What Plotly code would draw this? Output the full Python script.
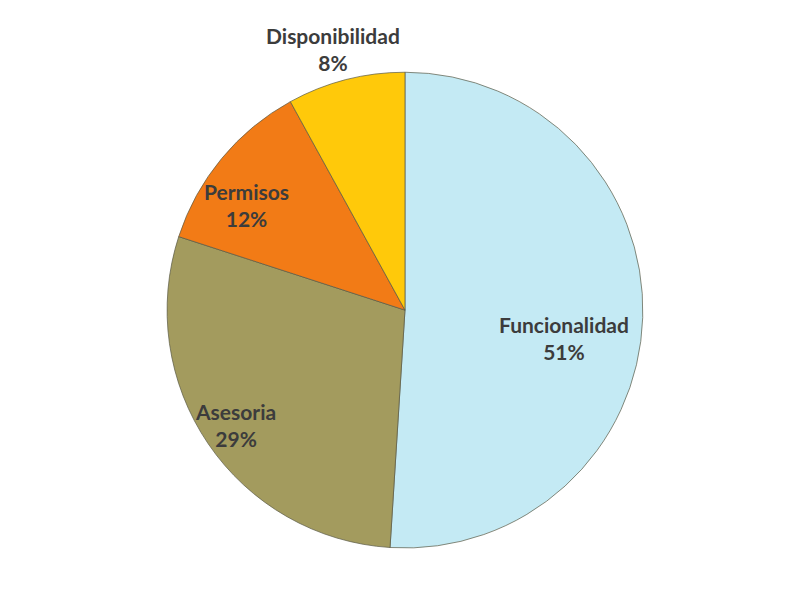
import math
import plotly.graph_objects as go

labels = ["Funcionalidad", "Asesoria", "Permisos", "Disponibilidad"]
values = [51, 29, 12, 8]
colors = ["#C4EAF4", "#A39B5E", "#F27B16", "#FFC90A"]

# label placement style: fraction of radius and small angular nudge (deg)
label_radius = [0.68, 0.86, 0.80, 1.14]
label_nudge = [8, 0, -6, -1]

W, H = 786, 602
dom_x = [0.2023, 0.8078]
dom_y = [0.1030, 0.8933]

fig = go.Figure(go.Pie(
    labels=labels,
    values=values,
    sort=False,
    direction="clockwise",
    rotation=0,
    marker=dict(colors=colors, line=dict(color="rgba(90,90,70,0.7)", width=1)),
    textinfo="none",
    domain=dict(x=dom_x, y=dom_y),
    showlegend=False,
))

cx = (dom_x[0] + dom_x[1]) / 2 * W
cy = (1 - (dom_y[0] + dom_y[1]) / 2) * H
R = min((dom_x[1] - dom_x[0]) * W, (dom_y[1] - dom_y[0]) * H) / 2
total = sum(values)
cum = 0
for lab, v, rf, nd in zip(labels, values, label_radius, label_nudge):
    mid = (cum + v / 2) / total * 360 + nd
    cum += v
    a = math.radians(mid)
    px = cx + rf * R * math.sin(a)
    py = cy - rf * R * math.cos(a)
    pct = round(v / total * 100)
    fig.add_annotation(
        x=px / W, y=1 - py / H, xref="paper", yref="paper",
        text=f"<b>{lab}</b><br><b>{pct}%</b>", showarrow=False,
        font=dict(family="Lato", size=21, color="#3c3c3c"),
        xanchor="center", yanchor="middle", align="center",
    )

fig.update_layout(
    width=W, height=H,
    margin=dict(l=0, r=0, t=0, b=0),
    paper_bgcolor="white",
    plot_bgcolor="white",
)
fig.write_html("out.html")
